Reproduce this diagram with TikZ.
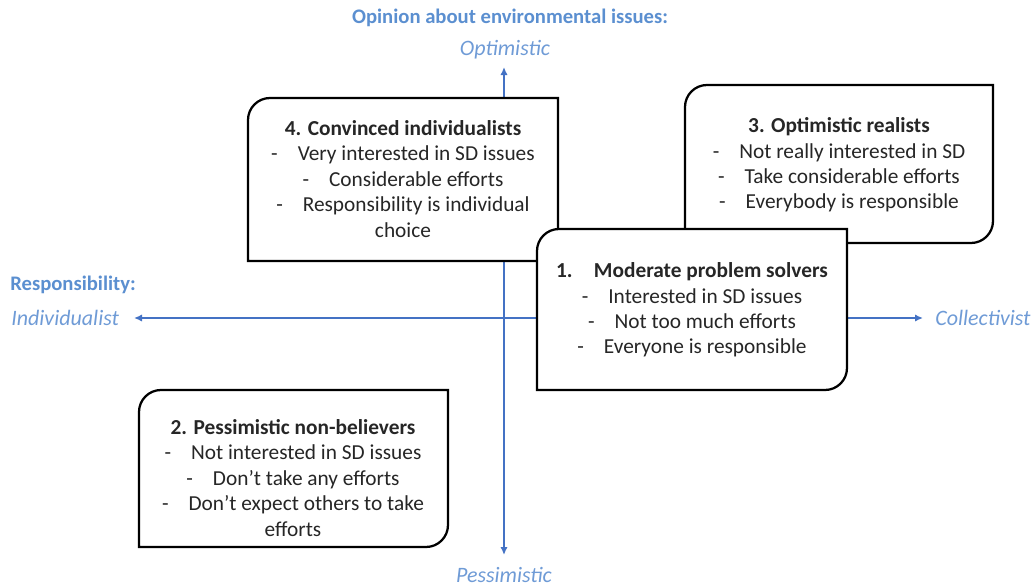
\documentclass[tikz,border=0pt]{standalone}
\usepackage{fontspec}
\setmainfont{Carlito}
\usetikzlibrary{arrows.meta}

\definecolor{axisblue}{HTML}{4472C4}
\definecolor{labelblue}{HTML}{5B8FD0}
\definecolor{italicblue}{HTML}{6F9BD6}
\definecolor{textgray}{HTML}{262626}

% Box with rounded top-left and bottom-right corners: x1, y1, x2, y2, radius
\newcommand\quadbox[5]{%
  \filldraw[boxline] (#1,#4) -- (#1,#2+#5)
    .. controls (#1,#2+0.4477*#5) and (#1+0.4477*#5,#2) .. (#1+#5,#2)
    -- (#3,#2) -- (#3,#4-#5)
    .. controls (#3,#4-0.4477*#5) and (#3-0.4477*#5,#4) .. (#3-#5,#4)
    -- cycle;}

\newcommand\bul{-\hspace{15pt}}

\tikzset{
  boxline/.style={draw=black, fill=white, line width=1.7pt},
  boxtext/.style={align=center, text=textgray, inner sep=0pt,
    font=\fontsize{16}{19.1}\selectfont},
  axisline/.style={draw=axisblue, line width=1.3pt,
    {Latex[length=6pt,width=5.5pt]}-{Latex[length=6pt,width=5.5pt]}},
  headlabel/.style={text=labelblue, inner sep=0pt,
    font=\fontsize{15.5}{18}\selectfont\bfseries},
  polelabel/.style={text=italicblue, inner sep=0pt,
    font=\fontsize{16.5}{19}\selectfont\itshape},
}

\begin{document}
\begin{tikzpicture}[x=0.75pt, y=-0.75pt]
  \useasboundingbox (0,0) rectangle (1035,586);

  % axes
  \coordinate (vtop) at (504,67);
  \coordinate (vbot) at (504,555);
  \coordinate (hleft) at (134,318);
  \coordinate (hright) at (923,318);
  \draw[axisline] (vbot) -- (vtop);
  \draw[axisline] (hleft) -- (hright);

  % axis captions
  \node[headlabel] (opinion) at (510,18) {Opinion about environmental issues:};
  \node[polelabel] (optimistic) at (505,50) {Optimistic};
  \node[polelabel] (pessimistic) at (504,575) {Pessimistic};
  \node[headlabel, anchor=west] (responsibility) at (10,285) {Responsibility:};
  \node[polelabel, anchor=west] (individualist) at (11,318) {Individualist};
  \node[polelabel, anchor=west] (collectivist) at (935,318) {Collectivist};

  % 4. Convinced individualists
  \quadbox{248}{98}{558}{261}{22}
  \node[boxtext] (convinced) at (403,179) {\textbf{4. Convinced individualists}\\
    \bul Very interested in SD issues\\
    \bul Considerable efforts\\
    \bul Responsibility is individual\\
    choice};

  % 3. Optimistic realists
  \quadbox{685}{85}{993}{243}{22}
  \node[boxtext] (realists) at (839,165) {\textbf{3. Optimistic realists}\\
    \bul Not really interested in SD\\
    \bul Take considerable efforts\\
    \bul Everybody is responsible};

  % 2. Pessimistic non-believers
  \quadbox{139}{390}{448}{547}{22}
  \node[boxtext] (nonbelievers) at (293,478) {\textbf{2. Pessimistic non-believers}\\
    \bul Not interested in SD issues\\
    \bul Don’t take any efforts\\
    \bul Don’t expect others to take\\
    efforts};

  % 1. Moderate problem solvers
  \quadbox{537}{229}{847}{390}{22}
  \node[boxtext] (moderate) at (692,310) {\textbf{1.\hspace{16pt}Moderate problem solvers}\\
    \bul Interested in SD issues\\
    \bul Not too much efforts\\
    \bul Everyone is responsible};
\end{tikzpicture}
\end{document}
